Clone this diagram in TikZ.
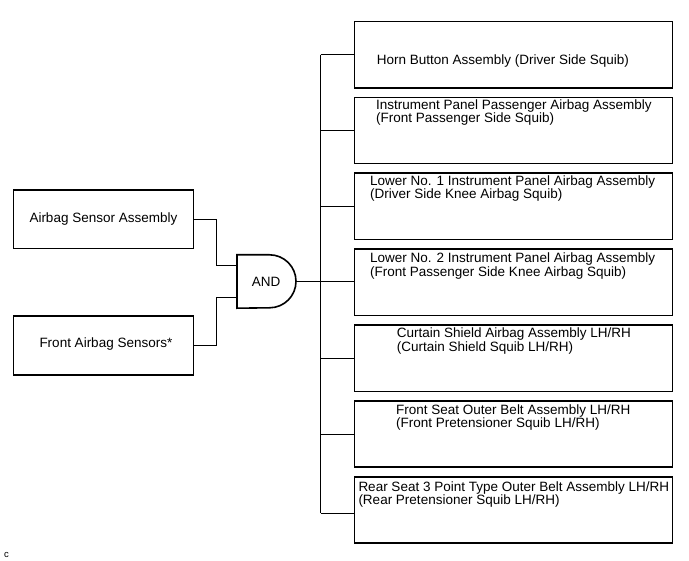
\documentclass[tikz,border=0pt]{standalone}
\usepackage{fontspec}
\setmainfont{Liberation Sans}
\usetikzlibrary{calc}
\begin{document}
\begin{tikzpicture}[x=1pt,y=-1pt,
  box/.style={draw,line width=1.6pt,inner sep=0pt,minimum width=318.2pt,minimum height=66.3pt,anchor=north west},
  lbox/.style={draw,line width=1.6pt,inner sep=0pt,minimum width=180pt,anchor=north west},
  wire/.style={line width=0.8pt},
  txt/.style={inner sep=0pt,anchor=base west,font=\fontsize{13.5}{13.5}\selectfont},
  gatebox/.style={inner sep=0pt,minimum width=59pt,minimum height=53pt,anchor=west,font=\fontsize{13.5}{13.5}\selectfont}]
\useasboundingbox (0,0) rectangle (689,561);
% left boxes
\node[lbox,minimum height=58.7pt] (A) at (12.7,189) {};
\node[lbox,minimum height=59pt] (B) at (12.7,315) {};
\node[txt] (tA) at (29.3,223) {Airbag Sensor Assembly};
\node[txt] (tB) at (39.3,348) {Front Airbag Sensors*};
% gate
\node[gatebox] (gate) at (237,281.5) {\hspace*{-1pt}AND};
\draw[line width=1.6pt] (gate.north west) -- ++(32.5,0) arc[start angle=90,end angle=-90,radius=26.5pt] -- (gate.south west) -- cycle;
\coordinate (in1) at (237,265);
\coordinate (in2) at (237,297.5);
\coordinate (jx) at (216.7,0);
\draw[wire] (A.east) -- (A.east -| jx) |- (in1);
\draw[wire] (B.east) -- (B.east -| jx) |- (in2);
% right boxes
\node[box] (r1) at (353.5,20.7) {};
\node[box] (r2) at (353.5,96.6) {};
\node[box] (r3) at (353.5,172.5) {};
\node[box] (r4) at (353.5,248.4) {};
\node[box] (r5) at (353.5,324.3) {};
\node[box] (r6) at (353.5,400.2) {};
\node[box] (r7) at (353.5,476.1) {};
\node[txt] (t1) at (376.7,64.7) {Horn Button Assembly (Driver Side Squib)};
\node[txt] (t2a) at (376,109.7) {Instrument Panel Passenger Airbag Assembly};
\node[txt] (t2b) at (376,123) {(Front Passenger Side Squib)};
\node[txt] (t3a) at (370,185.7) {Lower No. 1 Instrument Panel Airbag Assembly};
\node[txt] (t3b) at (370,199) {(Driver Side Knee Airbag Squib)};
\node[txt] (t4a) at (370,263) {Lower No. 2 Instrument Panel Airbag Assembly};
\node[txt] (t4b) at (370,276.3) {(Front Passenger Side Knee Airbag Squib)};
\node[txt] (t5a) at (396.7,338) {Curtain Shield Airbag Assembly LH/RH};
\node[txt] (t5b) at (396.7,351.3) {(Curtain Shield Squib LH/RH)};
\node[txt] (t6a) at (396,414.7) {Front Seat Outer Belt Assembly LH/RH};
\node[txt] (t6b) at (396,428) {(Front Pretensioner Squib LH/RH)};
\node[txt] (t7a) at (358.3,491.4) {Rear Seat 3 Point Type Outer Belt Assembly LH/RH};
\node[txt] (t7b) at (358.3,504.7) {(Rear Pretensioner Squib LH/RH)};
% bus
\coordinate (bx) at (320.7,0);
\coordinate (b1) at (r1.west -| bx);
\coordinate (b7) at ($(r7.west -| bx)+(0,3)$);
\draw[wire] (b1) -- (b7);
\draw[wire] (gate.east) -- (gate.east -| r4.west);
\foreach \i in {1,2,3,5,6} {\draw[wire] (r\i.west -| bx) -- (r\i.west);}
\draw[wire] (b7) -- (b7 -| r7.west);
% corner label
\node[inner sep=0pt,anchor=base west,font=\fontsize{9.5}{9.5}\selectfont] (c) at (4,557.3) {c};
\end{tikzpicture}
\end{document}
